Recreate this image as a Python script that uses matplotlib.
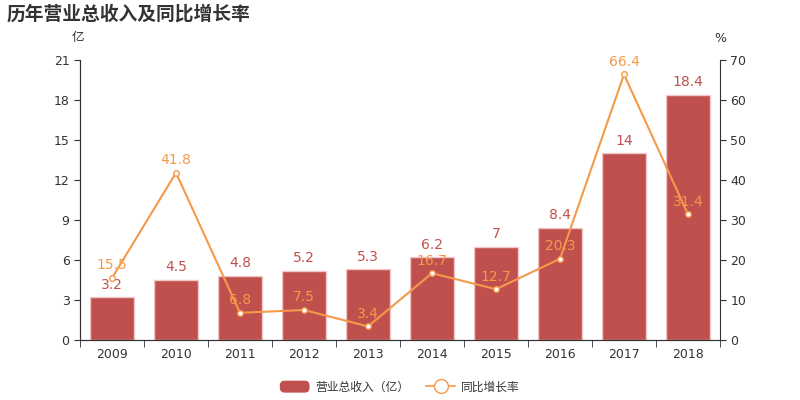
import matplotlib
matplotlib.use("Agg")
import matplotlib.pyplot as plt
from matplotlib.lines import Line2D
from matplotlib.patches import FancyBboxPatch, Patch
from matplotlib.legend_handler import HandlerPatch
import numpy as np

plt.rcParams['font.family'] = ['DejaVu Sans', 'Noto Sans CJK SC']

years = ['2009', '2010', '2011', '2012', '2013', '2014', '2015', '2016', '2017', '2018']
revenue = [3.2, 4.5, 4.8, 5.2, 5.3, 6.2, 7, 8.4, 14, 18.4]
growth = [15.5, 41.8, 6.8, 7.5, 3.4, 16.7, 12.7, 20.3, 66.4, 31.4]
rev_labels = ['3.2', '4.5', '4.8', '5.2', '5.3', '6.2', '7', '8.4', '14', '18.4']
growth_labels = ['15.5', '41.8', '6.8', '7.5', '3.4', '16.7', '12.7', '20.3', '66.4', '31.4']

bar_color = '#c0504d'
line_color = '#f5994a'
text_color = '#333333'

fig = plt.figure(figsize=(8, 4), dpi=100)
ax = fig.add_axes([0.10, 0.15, 0.80, 0.70])
ax2 = ax.twinx()

x = np.arange(len(years))
ax.bar(x, revenue, width=0.7, color=bar_color, edgecolor='#f0c8c8', linewidth=1, zorder=2)
ax.set_xlim(-0.5, len(years) - 0.5)
ax.set_ylim(0, 21)
ax.set_yticks(np.arange(0, 22, 3))
ax2.set_ylim(0, 70)
ax2.set_yticks(np.arange(0, 71, 10))

ax.set_xticks(x)
ax.set_xticklabels(years)
ax.set_xticks(np.arange(-0.5, len(years), 1), minor=True)
ax.tick_params(axis='x', which='major', length=0, pad=6, labelsize=9, colors=text_color)
ax.tick_params(axis='x', which='minor', length=5, color='#333333')
ax.tick_params(axis='y', labelsize=9, colors=text_color, length=4)
ax2.tick_params(axis='y', labelsize=9, colors=text_color, length=4)

for a in (ax, ax2):
    a.spines['top'].set_visible(False)
    for s in ('left', 'right', 'bottom'):
        a.spines[s].set_color('#333333')
ax.spines['right'].set_visible(False)

for xi, v, lab in zip(x, revenue, rev_labels):
    ax.annotate(lab, (xi, v), xytext=(0, 4), textcoords='offset points',
                ha='center', va='bottom', color=bar_color, fontsize=10, zorder=5)

ax2.plot(x, growth, color=line_color, linewidth=1.5, marker='o', markersize=4,
         markerfacecolor='white', markeredgecolor=line_color, markeredgewidth=1, zorder=3)
for xi, v, lab in zip(x, growth, growth_labels):
    ax2.annotate(lab, (xi, v), xytext=(0, 4), textcoords='offset points',
                 ha='center', va='bottom', color=line_color, fontsize=10, zorder=5)

fig.text(0.008, 0.965, '历年营业总收入及同比增长率', fontsize=13.5, fontweight='bold',
         color=text_color, ha='left', va='center')
fig.text(0.098, 0.905, '亿', fontsize=9, color=text_color, ha='center', va='center')
fig.text(0.900, 0.905, '%', fontsize=9, color=text_color, ha='center', va='center')


def rounded_patch(legend, orig_handle, xdescent, ydescent, width, height, fontsize):
    return FancyBboxPatch((-xdescent, -ydescent), width, height,
                          boxstyle='round,pad=0,rounding_size=3')


handles = [
    Patch(facecolor=bar_color, edgecolor=bar_color),
    Line2D([0], [0], color=line_color, marker='o', markersize=10, markerfacecolor='white',
           markeredgecolor=line_color, linewidth=1.2),
]
leg = fig.legend(handles, ['营业总收入（亿）', '同比增长率'], loc='center',
                 bbox_to_anchor=(0.5, 0.032), ncol=2, frameon=False, fontsize=8.5,
                 handlelength=2.4, handleheight=1.0, columnspacing=1.5, handletextpad=0.5,
                 handler_map={Patch: HandlerPatch(patch_func=rounded_patch)})
for t in leg.get_texts():
    t.set_color(text_color)

fig.savefig('out.png', dpi=100)
